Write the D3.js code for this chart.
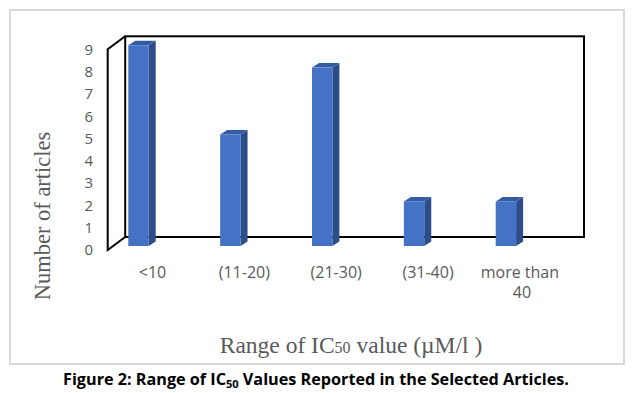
<!DOCTYPE html>
<html>
<head>
<meta charset="utf-8">
<script src="https://cdn.jsdelivr.net/npm/d3@7"></script>
<style>
  body { margin: 0; background: #fff; }
  svg { display: block; }
  .tick text { font-family: "Open Sans", sans-serif; font-size: 15px; fill: #595959; }
</style>
</head>
<body>
<svg id="chart" width="633" height="393"></svg>
<script>
// data
const categories = ['<10', '(11-20)', '(21-30)', '(31-40)', 'more than 40'];
const counts = [9, 5, 8, 2, 2];
const yTicks = [0, 1, 2, 3, 4, 5, 6, 7, 8, 9];

const svg = d3.select('#chart');

// 3D projection offsets
const wallDx = 17.5, wallDy = -13;   // front plane -> back wall
const barDy = -4;                    // bars sit a little behind the front plane
const sideDx = 7, sideDy = -4.5;     // bar depth
const barW = 20.4;
const labelDx = 14;                  // category labels sit under the floor edge

const y = d3.scaleLinear().domain([0, 9]).range([250, 49.3]);
const x = d3.scalePoint().domain(categories).range([138.5, 505.9]);

// outer frame
svg.append('rect')
    .attr('x', 10).attr('y', 10).attr('width', 614).attr('height', 354)
    .attr('fill', 'none').attr('stroke', '#d9d9d9').attr('stroke-width', 2);

// walls
const fx = 107.7;
const bx = fx + wallDx, bxr = 584;
const walls = svg.append('g').attr('fill', 'none').attr('stroke', '#000').attr('stroke-width', 2);
walls.append('rect')
    .attr('x', bx).attr('y', y(9) + wallDy)
    .attr('width', bxr - bx).attr('height', y(0) - y(9));
walls.append('path')
    .attr('d', `M${bx},${y(9) + wallDy}L${fx},${y(9)}L${fx},${y(0)}L${bx},${y(0) + wallDy}`);

// bars
const bars = svg.append('g').selectAll('g').data(counts).join('g');
bars.each(function(d, i) {
    const g = d3.select(this);
    const x0 = x(categories[i]) - barW / 2, x1 = x0 + barW;
    const yt = y(d) + barDy, yb = y(0) + barDy;
    g.append('path')
        .attr('d', `M${x1},${yt}L${x1 + sideDx},${yt + sideDy}L${x1 + sideDx},${yb + sideDy}L${x1},${yb}Z`)
        .attr('fill', '#2c4d87');
    g.append('path')
        .attr('d', `M${x0},${yt}L${x0 + sideDx},${yt + sideDy}L${x1 + sideDx},${yt + sideDy}L${x1},${yt}Z`)
        .attr('fill', '#345ca4');
    g.append('rect')
        .attr('x', x0).attr('y', yt).attr('width', barW).attr('height', yb - yt)
        .attr('fill', '#4472c4');
});

// y axis
const yAxis = svg.append('g')
    .attr('transform', 'translate(96,0)')
    .call(d3.axisLeft(y).tickValues(yTicks).tickSize(0).tickPadding(3));
yAxis.select('.domain').remove();

// category labels
const labels = svg.append('g')
    .attr('font-family', '"Open Sans", sans-serif').attr('font-size', 16).attr('fill', '#595959')
    .attr('text-anchor', 'middle');
categories.forEach(c => {
    const cx = x(c) + labelDx;
    const t = labels.append('text').attr('x', cx).attr('y', 278);
    if (c === 'more than 40') {
        t.append('tspan').attr('x', cx).text('more than');
        t.append('tspan').attr('x', cx + 2).attr('dy', 20).text('40');
    } else {
        t.text(c);
    }
});

// axis titles
const xt = svg.append('text')
    .attr('x', 351).attr('y', 353).attr('text-anchor', 'middle')
    .attr('font-family', '"Liberation Serif", serif').attr('font-size', 23.5).attr('fill', '#595959');
xt.append('tspan').text('Range of IC');
xt.append('tspan').attr('font-size', 16).text('50');
xt.append('tspan').text(' value (µM/l )');

svg.append('text')
    .attr('transform', 'translate(50,216) rotate(-90)')
    .attr('text-anchor', 'middle')
    .attr('font-family', '"Liberation Serif", serif').attr('font-size', 22.5).attr('fill', '#595959')
    .text('Number of articles');

// caption
const cap = svg.append('text')
    .attr('x', 316).attr('y', 385).attr('text-anchor', 'middle')
    .attr('font-family', '"Open Sans", sans-serif').attr('font-weight', 'bold').attr('font-size', 16.2)
    .attr('fill', '#000');
cap.append('tspan').text('Figure 2: Range of IC');
cap.append('tspan').attr('font-size', 11).attr('dy', 3).text('50');
cap.append('tspan').attr('dy', -3).text(' Values Reported in the Selected Articles.');
</script>
</body>
</html>
